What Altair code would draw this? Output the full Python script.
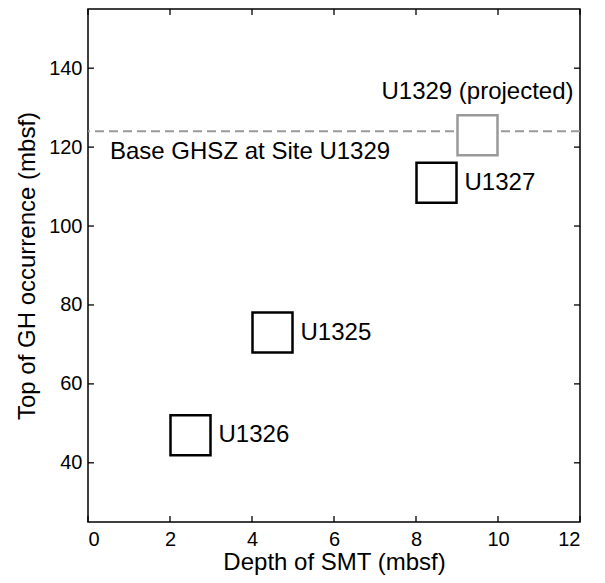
import altair as alt
import pandas as pd

# ---- data ----
sites = ["U1326", "U1325", "U1327", "U1329 (projected)"]
smt_depth = [2.5, 4.5, 8.5, 9.5]          # Depth of SMT (mbsf)
gh_top = [47, 73, 111, 123]               # Top of GH occurrence (mbsf)
site_kind = ["measured", "measured", "measured", "projected"]

ghsz_base = [124]
ghsz_label = ["Base GHSZ at Site U1329"]

x_ticks = [0, 2, 4, 6, 8, 10, 12]
y_ticks = [40, 60, 80, 100, 120, 140]
x_domain = [0, 12]
y_domain = [25, 155]

W, H = 492, 513
FONT = "Liberation Sans"
GRAY = "#999999"

pts = pd.DataFrame({"site": sites, "smt": smt_depth, "gh": gh_top, "kind": site_kind})
base_df = pd.DataFrame({"x": [x_domain[0]], "y": ghsz_base, "label": ghsz_label})
xt = pd.DataFrame({"t": x_ticks})
yt = pd.DataFrame({"t": y_ticks})

xs = alt.Scale(domain=x_domain, nice=False, zero=False)
ys = alt.Scale(domain=y_domain, nice=False, zero=False)

x_axis = alt.Axis(values=x_ticks, ticks=False, tickSize=0, domain=False, grid=False,
                  labelFontSize=20, labelPadding=7, labelColor="black",
                  title="Depth of SMT (mbsf)", titleFontSize=24, titleFontWeight="normal",
                  titleColor="black", titlePadding=1)
y_axis = alt.Axis(values=y_ticks, ticks=False, tickSize=0, domain=False, grid=False,
                  labelFontSize=20, labelPadding=6, labelColor="black",
                  title="Top of GH occurrence (mbsf)", titleFontSize=24, titleFontWeight="normal",
                  titleColor="black", titlePadding=9)

X = lambda f: alt.X(f, scale=xs, axis=x_axis)
Y = lambda f: alt.Y(f, scale=ys, axis=y_axis)

dash = alt.Chart(base_df).mark_rule(color=GRAY, strokeWidth=2, strokeDash=[9, 5]).encode(
    y=Y("y:Q")
)
dash_text = alt.Chart(base_df).mark_text(
    align="left", baseline="middle", dx=22, dy=21, fontSize=24, font=FONT, color="black"
).encode(
    x=X("x:Q"), y=Y("y:Q"), text="label:N",
)

squares = alt.Chart(pts).mark_point(
    shape="square", size=1600, strokeWidth=2.5, filled=True, fill="white", opacity=1,
    fillOpacity=1, strokeOpacity=1
).encode(
    x=X("smt:Q"), y=Y("gh:Q"),
    stroke=alt.Stroke("kind:N", scale=alt.Scale(domain=["measured", "projected"],
                                                 range=["black", GRAY]), legend=None),
)

labels_measured = alt.Chart(pts).transform_filter(alt.datum.kind == "measured").mark_text(
    align="left", baseline="middle", dx=28, fontSize=24, font=FONT, color="black"
).encode(
    x=X("smt:Q"), y=Y("gh:Q"), text="site:N",
)
labels_proj = alt.Chart(pts).transform_filter(alt.datum.kind == "projected").mark_text(
    align="center", baseline="middle", dy=-43, fontSize=24, font=FONT, color="black"
).encode(
    x=X("smt:Q"), y=Y("gh:Q"), text="site:N",
)

TL = 6
tick_style = dict(color="black", strokeWidth=1.3)
ticks_bottom = alt.Chart(xt).mark_rule(**tick_style).encode(
    x=X("t:Q"), y=alt.value(H), y2=alt.value(H - TL))
ticks_top = alt.Chart(xt).mark_rule(**tick_style).encode(
    x=X("t:Q"), y=alt.value(0), y2=alt.value(TL))
ticks_left = alt.Chart(yt).mark_rule(**tick_style).encode(
    y=Y("t:Q"), x=alt.value(0), x2=alt.value(TL))
ticks_right = alt.Chart(yt).mark_rule(**tick_style).encode(
    y=Y("t:Q"), x=alt.value(W), x2=alt.value(W - TL))

chart = alt.layer(
    dash, dash_text, squares, labels_measured, labels_proj,
    ticks_bottom, ticks_top, ticks_left, ticks_right,
).properties(
    width=W, height=H,
    autosize=alt.AutoSizeParams(type="none"),
    padding={"left": 80, "top": 1, "right": 17, "bottom": 53},
).configure(
    font=FONT,
).configure_view(
    stroke="black", strokeWidth=1.5
)

chart.save("out.html", embed_options={"renderer": "svg", "actions": False})
